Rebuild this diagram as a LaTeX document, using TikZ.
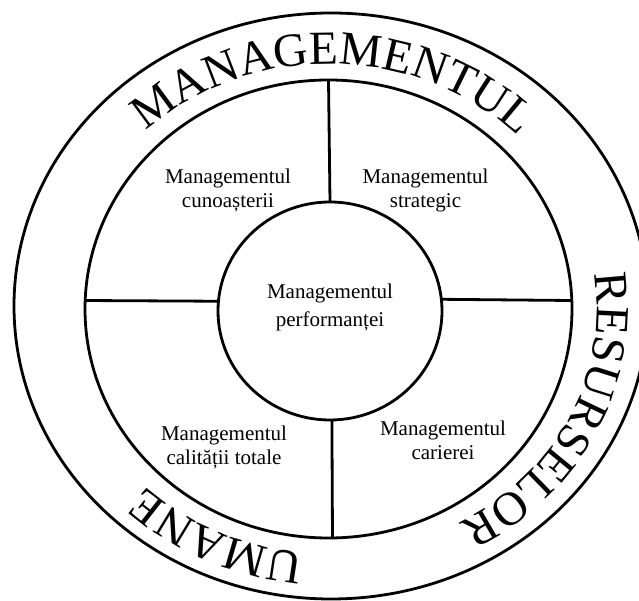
\documentclass[tikz,border=0pt]{standalone}
\usepackage{fontspec}
\setmainfont{Liberation Serif}
\usetikzlibrary{shapes.geometric,decorations.text}

\newcommand\ringfont{\fontsize{47.5}{47.5}\selectfont}

\begin{document}
\begin{tikzpicture}[
        x=1pt, y=1pt,
        ring/.style={
                ellipse,
                draw=black,
                line width=2.8pt,
                inner sep=0pt,
                outer sep=0pt
            },
        field/.style={
                align=center,
                font=\fontsize{21}{24.5}\selectfont
            },
        spoke/.style={line width=2.8pt},
        arctext/.style={
                decorate,
                decoration={text along path, text align=center, text={|\ringfont|#1}}
            }
    ]
    \fill[white] (0,0) rectangle (639,601);
    \useasboundingbox (0,0) rectangle (639,601);

    \node[ring, minimum width=634pt, minimum height=586pt] (outer) at (331,295) {};
    \node[ring, minimum width=487pt, minimum height=458pt] (mid)   at (328.5,292) {};
    \node[ring, minimum width=224pt, minimum height=218pt] (core)  at (330,290) {};
    \coordinate (hub) at (329,292);

    \draw[spoke] (mid.north) -- (core.north);
    \draw[spoke] (core.-89) -- (mid.-89);
    \draw[spoke] (mid.178) -- (core.175);
    \draw[spoke] (core.6) -- (mid.2);

    \node[field, font=\fontsize{21}{28}\selectfont] (perf) at (330,293.8) {Managementul\\performanței};
    \node[field] (know)   at (228,410.7) {Managementul\\cunoașterii};
    \node[field] (strat)  at (425.5,410.5) {Managementul\\strategic};
    \node[field] (qual)   at (224,153.5) {Managementul\\calității totale};
    \node[field] (career) at (443,160.7) {Managementul\\carierei};

    \path[arctext=MANAGEMENTUL] (hub) ++(150:266pt and 245pt) arc[start angle=150, end angle=28, x radius=266pt, y radius=245pt];
    \path[arctext=RESURSELOR] (hub) ++(34.5:268pt and 245pt) arc[start angle=34.5, end angle=-85.5, x radius=268pt, y radius=245pt];
    \path[arctext=UMANE] (hub) ++(-80:266pt and 245pt) arc[start angle=-80, end angle=-150, x radius=266pt, y radius=245pt];
\end{tikzpicture}
\end{document}
